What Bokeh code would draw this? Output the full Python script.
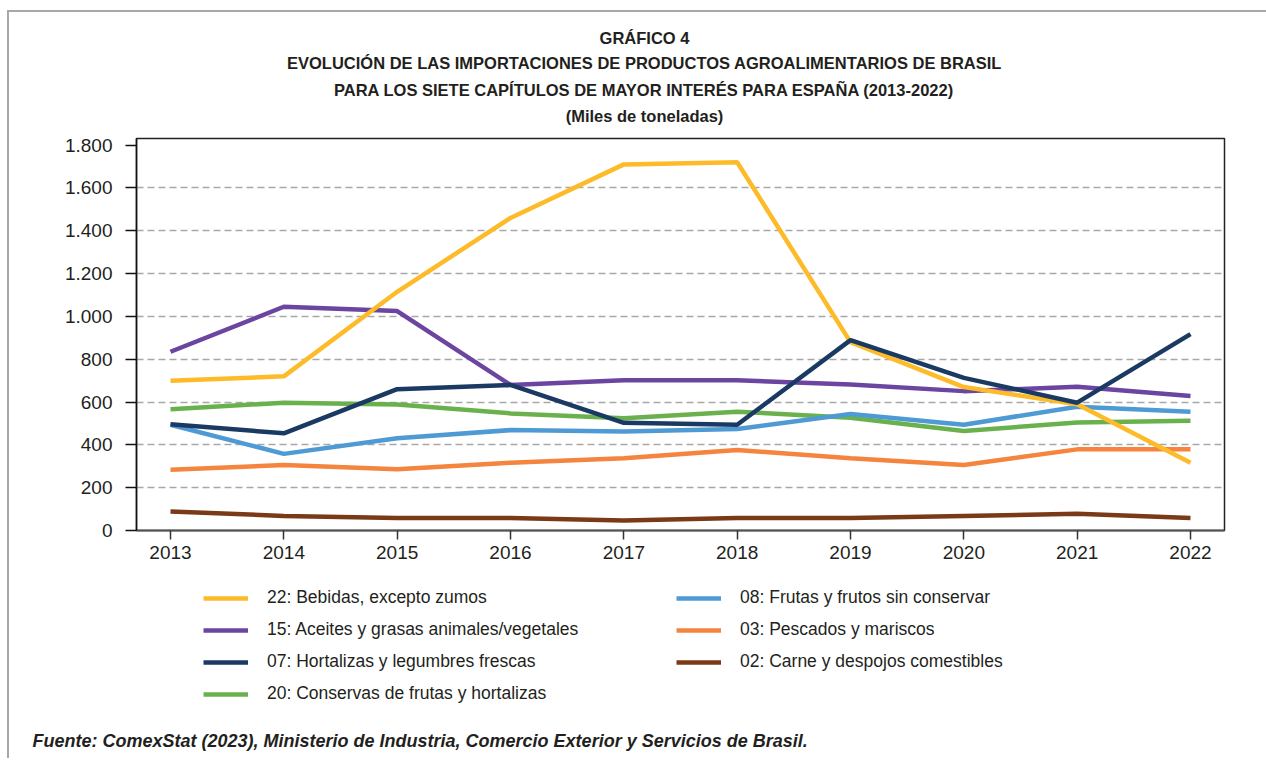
from bokeh.plotting import figure
from bokeh.layouts import column
from bokeh.models import Range1d, FixedTicker, Legend, LegendItem, Label, Title
from bokeh.embed import file_html
from bokeh.resources import INLINE

# ---------------- data ----------------
years = [2013, 2014, 2015, 2016, 2017, 2018, 2019, 2020, 2021, 2022]
bebidas = [700, 720, 1115, 1460, 1710, 1720, 880, 670, 590, 317]
aceites = [835, 1045, 1025, 680, 702, 702, 682, 651, 671, 628]
hortalizas = [496, 454, 660, 680, 503, 494, 889, 713, 597, 917]
conservas = [566, 597, 589, 547, 524, 555, 527, 465, 504, 513]
frutas = [494, 358, 431, 469, 462, 474, 544, 494, 578, 555]
pescados = [284, 306, 286, 317, 337, 376, 337, 306, 379, 379]
carne = [89, 68, 58, 58, 47, 58, 58, 68, 78, 58]

series_names = {
    "bebidas": "22: Bebidas, excepto zumos",
    "aceites": "15: Aceites y grasas animales/vegetales",
    "hortalizas": "07: Hortalizas y legumbres frescas",
    "conservas": "20: Conservas de frutas y hortalizas",
    "frutas": "08: Frutas y frutos sin conservar",
    "pescados": "03: Pescados y mariscos",
    "carne": "02: Carne y despojos comestibles",
}

y_ticks = [0, 200, 400, 600, 800, 1000, 1200, 1400, 1600, 1800]
y_tick_labels = ["0", "200", "400", "600", "800", "1.000", "1.200", "1.400", "1.600", "1.800"]
grid_ticks = [200, 400, 600, 800, 1000, 1200, 1400, 1600]

title_lines = [
    "GRÁFICO 4",
    "EVOLUCIÓN DE LAS IMPORTACIONES DE PRODUCTOS AGROALIMENTARIOS DE BRASIL",
    "PARA LOS SIETE CAPÍTULOS DE MAYOR INTERÉS PARA ESPAÑA (2013-2022)",
    "(Miles de toneladas)",
]
source_text = "Fuente: ComexStat (2023), Ministerio de Industria, Comercio Exterior y Servicios de Brasil."

# ---------------- style ----------------
FONT = "Liberation Sans"
TXT = "#231f20"
LW = 4.5
colors = {
    "bebidas": "#FDBB2A",
    "aceites": "#6B45A0",
    "hortalizas": "#1A3A64",
    "conservas": "#6AB14E",
    "frutas": "#4E9AD5",
    "pescados": "#F4843E",
    "carne": "#7B3A17",
}
W = 1257
# page x of the aligned plot frames
FX0, FX1 = 136, 1224

# ---------------- header (titles) ----------------
HH = 118
head = figure(width=W, height=HH, output_backend="svg", toolbar_location=None,
              x_range=Range1d(FX0, FX1), y_range=Range1d(HH, 0),
              x_axis_type=None, y_axis_type=None, min_border=0)
head.outline_line_color = None
head.grid.visible = False
title_y = [25, 50, 77, 103]
for txt, ty in zip(title_lines, title_y):
    head.add_layout(Label(x=644, y=ty, text=txt, text_font=FONT, text_font_style="bold",
                          text_font_size="16.5px", text_color=TXT,
                          text_align="center", text_baseline="middle"))

# ---------------- main chart ----------------
MH = 450
p = figure(width=W, height=MH, output_backend="svg", toolbar_location=None,
           x_range=Range1d(2012.7, 2022.3), y_range=Range1d(0, 1831),
           min_border_left=127, min_border_right=42, min_border_top=8, min_border_bottom=50)
p.background_fill_color = "white"
p.border_fill_color = "white"
p.outline_line_color = "#222222"
p.outline_line_width = 1.5

p.xgrid.visible = False
p.ygrid.ticker = FixedTicker(ticks=grid_ticks)
p.ygrid.grid_line_color = "#a8a8a8"
p.ygrid.grid_line_dash = "7 4"
p.ygrid.grid_line_width = 1.3

p.yaxis.ticker = FixedTicker(ticks=y_ticks)
p.yaxis.major_label_overrides = {t: l for t, l in zip(y_ticks, y_tick_labels)}
p.yaxis.axis_line_color = "#111111"
p.yaxis.axis_line_width = 1.5
p.yaxis.major_tick_line_color = "#111111"
p.yaxis.major_tick_line_width = 1.5
p.yaxis.major_tick_out = 11
p.yaxis.major_tick_in = 0
p.yaxis.minor_tick_line_color = None
p.yaxis.major_label_standoff = 13
p.yaxis.major_label_text_font = FONT
p.yaxis.major_label_text_font_size = "19px"
p.yaxis.major_label_text_color = TXT

p.xaxis.ticker = FixedTicker(ticks=years)
p.xaxis.axis_line_color = "#555555"
p.xaxis.axis_line_width = 2
p.xaxis.major_tick_line_color = "#333333"
p.xaxis.major_tick_line_width = 1.5
p.xaxis.major_tick_out = 9
p.xaxis.major_tick_in = 0
p.xaxis.minor_tick_line_color = None
p.xaxis.major_label_standoff = 6
p.xaxis.major_label_text_font = FONT
p.xaxis.major_label_text_font_size = "19px"
p.xaxis.major_label_text_color = TXT

data = {"bebidas": bebidas, "aceites": aceites, "hortalizas": hortalizas,
        "conservas": conservas, "frutas": frutas, "pescados": pescados, "carne": carne}
for key in ["carne", "pescados", "conservas", "frutas", "aceites", "bebidas", "hortalizas"]:
    p.line(years, data[key], line_color=colors[key], line_width=LW)

# ---------------- footer (legend + source) ----------------
FH = 178
foot = figure(width=W, height=FH, output_backend="svg", toolbar_location=None,
              x_range=Range1d(FX0, FX1), y_range=Range1d(0, 1),
              x_axis_type=None, y_axis_type=None, min_border=0, min_border_bottom=30)
foot.outline_line_color = None
foot.grid.visible = False

# legend-only renderers (hidden copies of the series)
leg_r = {k: foot.line(years, data[k], line_color=colors[k], line_width=LW, visible=False)
         for k in colors}

leg_common = dict(padding=0, margin=0, border_line_color=None, background_fill_alpha=0,
                  glyph_width=45, glyph_height=20, label_height=20, spacing=11,
                  label_standoff=19, label_text_font=FONT, label_text_font_size="17.5px",
                  label_text_color=TXT)
col1 = ["bebidas", "aceites", "hortalizas", "conservas"]
col2 = ["frutas", "pescados", "carne"]
leg1 = Legend(items=[LegendItem(label=series_names[k], renderers=[leg_r[k]]) for k in col1],
              location=(203 - FX0, 24), **leg_common)
leg2 = Legend(items=[LegendItem(label=series_names[k], renderers=[leg_r[k]]) for k in col2],
              location=(676 - FX0, 56), **leg_common)
foot.add_layout(leg1)
foot.add_layout(leg2)

foot.add_layout(Title(text=source_text, align="left", offset=32 - FX0, standoff=0,
                      text_font=FONT, text_font_style="bold italic", text_font_size="18px",
                      text_color=TXT), "below")

layout = column(head, p, foot, spacing=0,
                styles={"border-top": "2px solid #a8a8a8", "border-left": "2px solid #a8a8a8",
                        "margin-left": "7px", "margin-top": "10px"})

open("out.html", "w").write(file_html(layout, INLINE))
